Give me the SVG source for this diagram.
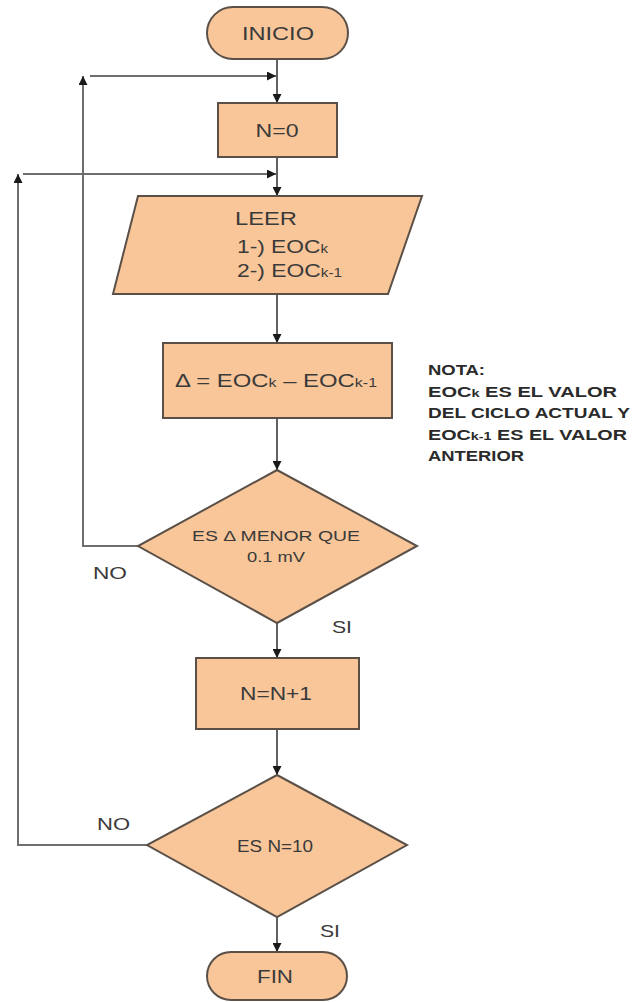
<svg xmlns="http://www.w3.org/2000/svg" width="633" height="1002" viewBox="0 0 633 1002">
  <style>
    .shape { fill: #F8C699; stroke: #5a5048; stroke-width: 2; }
    .flow { fill: none; stroke: #3a3a3a; stroke-width: 1.6; }
    .loop { fill: none; stroke: #6e6e6e; stroke-width: 2; }
    .lbl { font-family: "Liberation Sans", Arial, sans-serif; fill: #3a3a3a; }
    .c { text-anchor: middle; }
    .note { font-family: "Liberation Sans", Arial, sans-serif; font-weight: bold; font-size: 14.5px; fill: #2a2a2a; }
  </style>
  <defs>
    <marker id="arrow" viewBox="0 0 10 10" refX="10" refY="5" markerWidth="9" markerHeight="9" markerUnits="userSpaceOnUse" orient="auto">
      <path d="M0,0 L10,5 L0,10 Z" fill="#1a1a1a"/>
    </marker>
  </defs>
  <rect width="633" height="1002" fill="#ffffff"/>

  <!-- connectors -->
  <g id="connectors">
    <line class="flow" x1="277" y1="59" x2="277" y2="103" marker-end="url(#arrow)"/>
    <line class="flow" x1="277" y1="157" x2="277" y2="196" marker-end="url(#arrow)"/>
    <line class="flow" x1="277" y1="294" x2="277" y2="343" marker-end="url(#arrow)"/>
    <line class="flow" x1="277" y1="418" x2="277" y2="470" marker-end="url(#arrow)"/>
    <line class="flow" x1="277" y1="623" x2="277" y2="658" marker-end="url(#arrow)"/>
    <line class="flow" x1="277" y1="729" x2="277" y2="775" marker-end="url(#arrow)"/>
    <line class="flow" x1="277" y1="917" x2="277" y2="952" marker-end="url(#arrow)"/>
    <!-- return from first decision (NO) -->
    <polyline class="loop" points="138,546 83,546 83,76" marker-end="url(#arrow)"/>
    <line class="loop" x1="90" y1="76" x2="276" y2="76" marker-end="url(#arrow)"/>
    <!-- return from second decision (NO) -->
    <polyline class="loop" points="147,845 18,845 18,174" marker-end="url(#arrow)"/>
    <line class="loop" x1="23" y1="174" x2="276" y2="174" marker-end="url(#arrow)"/>
  </g>

  <g id="inicio">
    <rect class="shape" x="207" y="7" width="141" height="52" rx="26"/>
    <text class="lbl c" x="278" y="40" font-size="18" textLength="72" lengthAdjust="spacingAndGlyphs">INICIO</text>
  </g>

  <g id="n0">
    <rect class="shape" x="218" y="103" width="119" height="54"/>
    <text class="lbl c" x="277" y="137" font-size="18" textLength="43" lengthAdjust="spacingAndGlyphs">N=0</text>
  </g>

  <g id="leer">
    <polygon class="shape" points="138,196 422,196 388,294 113,294"/>
    <text class="lbl" x="235" y="225" font-size="18" textLength="62" lengthAdjust="spacingAndGlyphs">LEER</text>
    <text class="lbl" x="237" y="253" font-size="18" textLength="91" lengthAdjust="spacingAndGlyphs">1-) EOC<tspan font-size="12">k</tspan></text>
    <text class="lbl" x="237" y="277" font-size="18" textLength="105" lengthAdjust="spacingAndGlyphs">2-) EOC<tspan font-size="12">k-1</tspan></text>
  </g>

  <g id="delta">
    <rect class="shape" x="163" y="343" width="229" height="75"/>
    <text class="lbl c" x="276" y="387" font-size="18" textLength="202" lengthAdjust="spacingAndGlyphs">Δ = EOC<tspan font-size="12">k</tspan> – EOC<tspan font-size="12">k-1</tspan></text>
  </g>

  <g id="nota">
    <text class="note" x="428" y="375" textLength="57" lengthAdjust="spacingAndGlyphs">NOTA:</text>
    <text class="note" x="428" y="397" textLength="189" lengthAdjust="spacingAndGlyphs">EOC<tspan font-size="10.5">k</tspan>  ES EL VALOR</text>
    <text class="note" x="428" y="418" textLength="202" lengthAdjust="spacingAndGlyphs">DEL CICLO ACTUAL Y</text>
    <text class="note" x="428" y="440" textLength="199" lengthAdjust="spacingAndGlyphs">EOC<tspan font-size="10.5">k-1</tspan> ES EL VALOR</text>
    <text class="note" x="428" y="461" textLength="96" lengthAdjust="spacingAndGlyphs">ANTERIOR</text>
  </g>

  <g id="decision-delta">
    <polygon class="shape" points="277,470 417,546 277,623 138,546"/>
    <text class="lbl c" x="276" y="541" font-size="15" textLength="168" lengthAdjust="spacingAndGlyphs">ES Δ MENOR QUE</text>
    <text class="lbl c" x="276" y="562" font-size="15" textLength="58" lengthAdjust="spacingAndGlyphs">0.1 mV</text>
  </g>

  <g id="labels">
    <text class="lbl" x="93" y="579" font-size="17" textLength="34" lengthAdjust="spacingAndGlyphs">NO</text>
    <text class="lbl" x="332" y="633" font-size="17" textLength="20" lengthAdjust="spacingAndGlyphs">SI</text>
    <text class="lbl" x="97" y="830" font-size="17" textLength="33" lengthAdjust="spacingAndGlyphs">NO</text>
    <text class="lbl" x="320" y="937" font-size="17" textLength="20" lengthAdjust="spacingAndGlyphs">SI</text>
  </g>

  <g id="incremento">
    <rect class="shape" x="196" y="658" width="163" height="71"/>
    <text class="lbl c" x="276" y="700" font-size="18" textLength="72" lengthAdjust="spacingAndGlyphs">N=N+1</text>
  </g>

  <g id="decision-n">
    <polygon class="shape" points="277,775 407,845 277,917 147,845"/>
    <text class="lbl c" x="275" y="852" font-size="16" textLength="76" lengthAdjust="spacingAndGlyphs">ES N=10</text>
  </g>

  <g id="fin">
    <rect class="shape" x="207" y="952" width="140" height="48" rx="24"/>
    <text class="lbl c" x="275" y="983" font-size="18" textLength="36" lengthAdjust="spacingAndGlyphs">FIN</text>
  </g>
</svg>
